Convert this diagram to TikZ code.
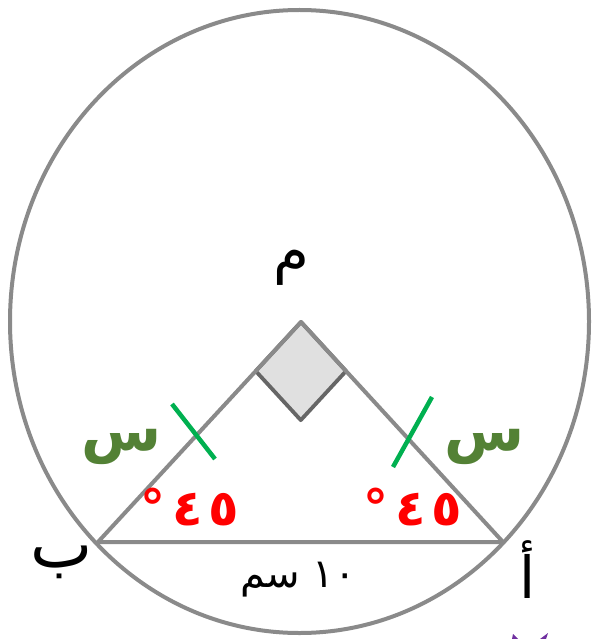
\documentclass[tikz,border=0pt]{standalone}
\usepackage{fontspec}
\usepackage{xcolor}
\usetikzlibrary{calc}
\newfontfamily\arabicfont[Script=Arabic]{DejaVu Sans}
\TeXXeTstate=1
\definecolor{rimgray}{HTML}{8A8A8A}
\definecolor{sqgray}{HTML}{666666}
\definecolor{sqfill}{HTML}{E0E0E0}
\definecolor{sidegreen}{HTML}{538135}
\definecolor{tickgreen}{HTML}{00B050}
\definecolor{anglered}{HTML}{FF0000}
\definecolor{markpurple}{HTML}{7030A0}
\tikzset{
  rim/.style={draw=rimgray, line width=4pt},
  side/.style={draw=rimgray, line width=4pt, line join=round},
  rightsq/.style={draw=sqgray, line width=3.8pt, fill=sqfill, line join=round},
  tick/.style={draw=tickgreen, line width=4.5pt},
  vertex/.style={font=\arabicfont\fontsize{58}{66}\selectfont, inner sep=0pt},
  sidelab/.style={font=\arabicfont\bfseries\fontsize{58}{66}\selectfont, text=sidegreen, inner sep=0pt},
  anglab/.style={font=\arabicfont\bfseries\fontsize{50}{58}\selectfont, text=anglered, inner sep=0pt},
  lenlab/.style={font=\arabicfont\fontsize{40}{48}\selectfont, inner sep=0pt}
}
\begin{document}
\begin{tikzpicture}[x=1pt,y=-1pt]
    \useasboundingbox (0,0) rectangle (594,639);
    % circle and triangle
    \coordinate (O) at (299.5,321.5);
    \coordinate (M) at (301,322);
    \coordinate (A) at (503,542);
    \coordinate (B) at (98,542);
    \draw[rim] (O) ellipse [x radius=289.5, y radius=311.5];
    \coordinate (sqB) at ($(M)!0.223!(B)$);
    \coordinate (sqA) at ($(M)!0.223!(A)$);
    \draw[rightsq] (M) -- (sqB) -- ($(sqB)+(sqA)-(M)$) -- (sqA) -- cycle;
    \draw[side] (B) -- (M) -- (A) -- cycle;
    % equal sides
    \coordinate (tB1) at (172,404);
    \coordinate (tB2) at (215,459);
    \coordinate (tA1) at (432,397);
    \coordinate (tA2) at (393,467);
    \draw[tick] (tB1) -- (tB2);
    \draw[tick] (tA1) -- (tA2);
    % labels
    \node[vertex] (m) at (291,268) {\beginR م\endR};
    \node[vertex, font=\arabicfont\fontsize{66}{72}\selectfont] (b) at (62,562) {\beginR ب\endR};
    \node[vertex] (a) at (528,570) {\beginR أ\endR};
    \node[lenlab] (len) at (298,580) {\beginR ١٠ سم\endR};
    \node[sidelab] (sB) at (122,447) {\beginR س\endR};
    \node[sidelab] (sA) at (485,447) {\beginR س\endR};
    \node[anglab] (angB) at (190,507) {°\hspace{7pt}٤\hspace{5pt}٥};
    \node[anglab] (angA) at (413,507) {°\hspace{7pt}٤\hspace{5pt}٥};
    % corner mark
    \fill[markpurple] (513,634) -- (518,639) -- (512,639) -- cycle;
    \fill[markpurple] (548,633) -- (546,639) -- (540,639) -- cycle;
\end{tikzpicture}
\end{document}
